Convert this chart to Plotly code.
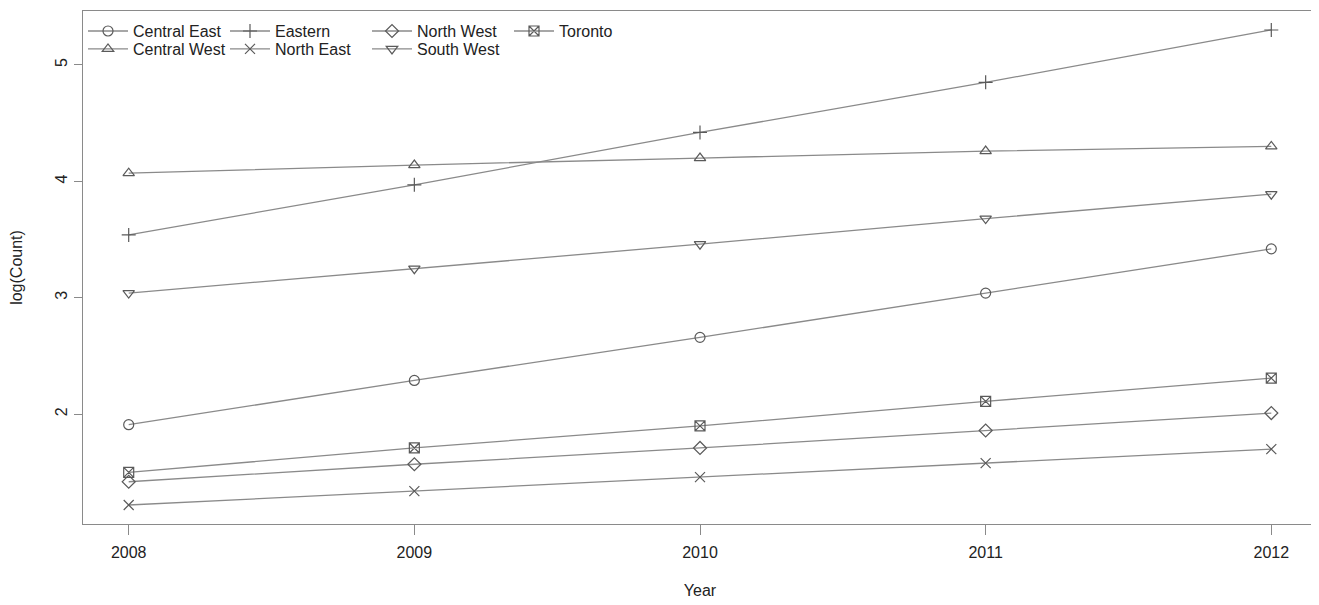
import plotly.graph_objects as go

years = [2008, 2009, 2010, 2011, 2012]
central_east = [1.91, 2.29, 2.66, 3.04, 3.42]
central_west = [4.07, 4.14, 4.20, 4.26, 4.30]
eastern = [3.54, 3.97, 4.42, 4.85, 5.30]
north_east = [1.22, 1.34, 1.46, 1.58, 1.70]
north_west = [1.42, 1.57, 1.71, 1.86, 2.01]
south_west = [3.04, 3.25, 3.46, 3.68, 3.89]
toronto = [1.50, 1.71, 1.90, 2.11, 2.31]

y_ticks = [2, 3, 4, 5]

series = [
    ("Central East", central_east, "circle-open", "legend"),
    ("Eastern", eastern, "cross-thin-open", "legend"),
    ("North West", north_west, "diamond-open", "legend"),
    ("Toronto", toronto, "square-x-open", "legend"),
    ("Central West", central_west, "triangle-up-open", "legend2"),
    ("North East", north_east, "x-thin-open", "legend2"),
    ("South West", south_west, "triangle-down-open", "legend2"),
]

LINE = "#8a8a8a"
MARK = "#5a5a5a"
FONT = "Liberation Sans, Arial, sans-serif"

fig = go.Figure()
for name, vals, sym, lg in series:
    fig.add_trace(go.Scatter(
        x=years, y=vals, name=name, mode="lines+markers",
        line=dict(color=LINE, width=1.3),
        marker=dict(symbol=sym, size=10, color=MARK, line=dict(width=1.2, color=MARK)),
        legend=lg,
    ))

leg_common = dict(
    orientation="h", xanchor="left", yanchor="top",
    bgcolor="rgba(0,0,0,0)", font=dict(family=FONT, size=16, color="#222"),
    entrywidth=87, entrywidthmode="pixels", tracegroupgap=0,
    itemwidth=40,
)

fig.update_layout(
    width=1311, height=597,
    margin=dict(l=75, r=2, t=3, b=81),
    paper_bgcolor="white", plot_bgcolor="white",
    font=dict(family=FONT, size=16, color="#222"),
    showlegend=True,
    legend=dict(x=0.0, y=0.994, **leg_common),
    legend2=dict(x=0.0, y=0.959, **leg_common),
    xaxis=dict(
        range=[2007.84, 2012.16], tickvals=years, ticktext=[str(y) for y in years],
        showgrid=False, zeroline=False, showline=True, mirror=True,
        linecolor="#8a8a8a", linewidth=1.2,
        ticks="outside", ticklen=10, tickcolor="#8a8a8a", tickwidth=1.2,
        ticklabelstandoff=4,
        title=dict(text="Year", standoff=24, font=dict(size=16)),
        tickfont=dict(size=16),
    ),
    yaxis=dict(
        range=[1.057, 5.463], tickvals=y_ticks, ticktext=[str(v) for v in y_ticks],
        showgrid=False, zeroline=False, showline=True, mirror=True,
        linecolor="#8a8a8a", linewidth=1.2,
        ticks="outside", ticklen=8, tickcolor="#8a8a8a", tickwidth=1.2,
        tickangle=-90, ticklabelstandoff=1,
        title=dict(text="log(Count)", standoff=26, font=dict(size=16)),
        tickfont=dict(size=16),
    ),
)

fig.write_html("out.html")
